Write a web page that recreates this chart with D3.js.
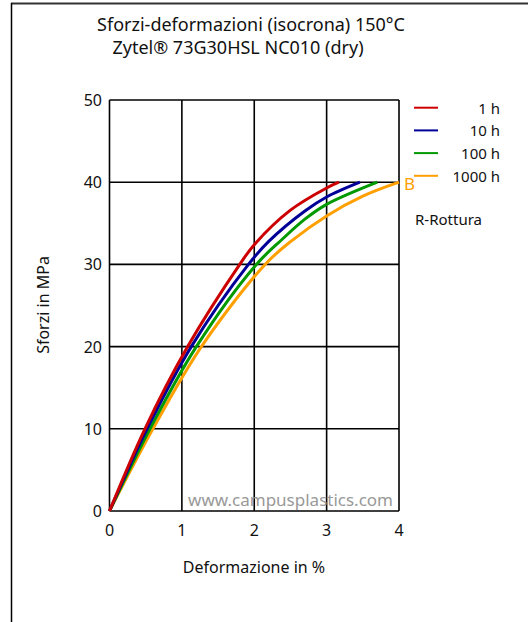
<!DOCTYPE html>
<html>
<head>
<meta charset="utf-8">
<script src="https://cdn.jsdelivr.net/npm/d3@7"></script>
<style>
    body { margin: 0; background: #fff; }
    text { font-family: "Noto Sans", "Open Sans", sans-serif; fill: #111; }
    .grid line { stroke: #000; stroke-width: 1.6; }
</style>
</head>
<body>
<div id="chart"></div>
<script>
// data (strain %, stress MPa)
var seriesNames = ["1 h", "10 h", "100 h", "1000 h"];
var seriesColors = ["#cc0000", "#000099", "#009900", "#ffa000"];
var strain1h = [0, 0.49, 1.08, 1.8, 2.0, 2.5, 3.0, 3.17];
var stress1h = [0, 10, 20, 30, 32.4, 36.6, 39.3, 40];
var strain10h = [0, 0.52, 1.13, 1.92, 2.2, 2.7, 3.0, 3.46];
var stress10h = [0, 10, 20, 30, 32.8, 36.5, 38.2, 40];
var strain100h = [0, 0.56, 1.2, 2.03, 2.38, 2.7, 3.0, 3.7];
var stress100h = [0, 10, 20, 30, 33.0, 35.5, 37.3, 40];
var strain1000h = [0, 0.6, 1.27, 2.15, 2.52, 3.0, 3.5, 4.0];
var stress1000h = [0, 10, 20, 30, 32.9, 35.9, 38.3, 40];
var xTicks = [0, 1, 2, 3, 4];
var yTicks = [0, 10, 20, 30, 40, 50];

function drawChart() {
    let width = 528;
    let height = 622;

    var xScale = d3.scaleLinear().domain([0, 4]).range([109.5, 399]);
    var yScale = d3.scaleLinear().domain([0, 50]).range([511, 100]);

    var svg = d3.select("#chart")
        .append("svg")
        .attr("width", width)
        .attr("height", height);

    // outer frame (top + left only)
    svg.append("line").attr("x1", 11).attr("y1", 3.5).attr("x2", 528).attr("y2", 3.5)
        .attr("stroke", "#333").attr("stroke-width", 2);
    svg.append("line").attr("x1", 11.5).attr("y1", 3).attr("x2", 11.5).attr("y2", 622)
        .attr("stroke", "#000").attr("stroke-width", 1.5);

    // title
    svg.append("text").attr("x", 251).attr("y", 31).attr("text-anchor", "middle")
        .style("font-size", "18px").text("Sforzi-deformazioni (isocrona) 150°C");
    svg.append("text").attr("x", 238).attr("y", 54).attr("text-anchor", "middle")
        .style("font-size", "18px").text("Zytel® 73G30HSL NC010 (dry)");

    // grid
    var grid = svg.append("g").attr("class", "grid");
    grid.selectAll(".vx").data(xTicks).enter().append("line")
        .attr("x1", function (d) { return xScale(d); })
        .attr("x2", function (d) { return xScale(d); })
        .attr("y1", yScale(0)).attr("y2", yScale(50));
    grid.selectAll(".hy").data(yTicks).enter().append("line")
        .attr("y1", function (d) { return yScale(d); })
        .attr("y2", function (d) { return yScale(d); })
        .attr("x1", xScale(0)).attr("x2", xScale(4));

    // tick labels
    svg.selectAll(".xt").data(xTicks).enter().append("text")
        .attr("x", function (d) { return xScale(d); })
        .attr("y", 536).attr("text-anchor", "middle")
        .style("font-size", "16px").text(function (d) { return d; });
    svg.selectAll(".yt").data(yTicks).enter().append("text")
        .attr("x", 102)
        .attr("y", function (d) { return yScale(d) + 6; })
        .attr("text-anchor", "end")
        .style("font-size", "16px").text(function (d) { return d; });

    // axis titles
    svg.append("text").attr("x", 254).attr("y", 573).attr("text-anchor", "middle")
        .style("font-size", "16px").text("Deformazione in %");
    svg.append("text")
        .attr("transform", "translate(49,305) rotate(-90)")
        .attr("text-anchor", "middle")
        .style("font-size", "16px").text("Sforzi in MPa");

    // watermark
    svg.append("text").attr("x", 393).attr("y", 506).attr("text-anchor", "end")
        .style("font-size", "17px").style("fill", "#999")
        .text("www.campusplastics.com");

    // curves
    var series = [
        d3.zip(strain1h, stress1h),
        d3.zip(strain10h, stress10h),
        d3.zip(strain100h, stress100h),
        d3.zip(strain1000h, stress1000h)
    ];
    var line = d3.line()
        .x(function (d) { return xScale(d[0]); })
        .y(function (d) { return yScale(d[1]); })
        .curve(d3.curveCatmullRom.alpha(0.5));

    // draw 1000 h first so red sits on top
    for (var i = series.length - 1; i >= 0; i--) {
        svg.append("path")
            .datum(series[i])
            .attr("d", line)
            .attr("fill", "none")
            .attr("stroke", seriesColors[i])
            .attr("stroke-width", 3);
    }

    // break marker
    svg.append("text").attr("x", 404).attr("y", 190)
        .style("font-size", "17px").style("fill", "#ffa000").text("B");

    // legend
    var legend = svg.selectAll(".legend").data(seriesNames).enter().append("g")
        .attr("transform", function (d, i) { return "translate(0," + (107.7 + i * 22.7) + ")"; });
    legend.append("line")
        .attr("x1", 414).attr("x2", 438).attr("y1", 0).attr("y2", 0)
        .attr("stroke", function (d, i) { return seriesColors[i]; })
        .attr("stroke-width", 2);
    legend.append("text")
        .attr("x", 500).attr("y", 6).attr("text-anchor", "end")
        .style("font-size", "15px").text(function (d) { return d; });

    svg.append("text").attr("x", 415).attr("y", 225)
        .style("font-size", "15px").text("R-Rottura");
}

drawChart();
</script>
</body>
</html>
